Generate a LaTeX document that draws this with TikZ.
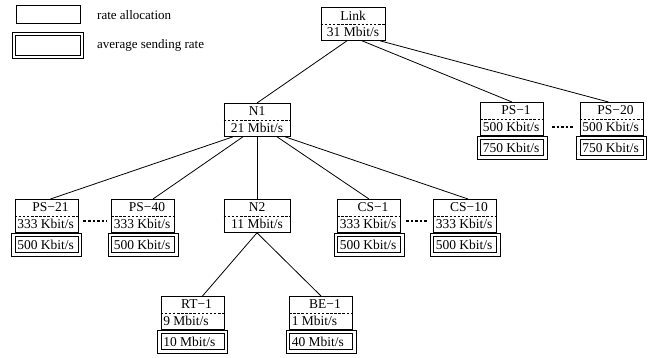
\documentclass[tikz,border=0pt]{standalone}
\usepackage{fontspec}
\setmainfont{Liberation Serif}
\usetikzlibrary{calc}
\tikzset{
  box/.style={draw, line width=0.8pt, minimum height=33pt, inner sep=0pt, anchor=north},
  divider/.style={line width=0.7pt, dash pattern=on 2.5pt off 1.6pt},
  lbl/.style={inner sep=0pt, font=\fontsize{13.5pt}{15pt}\selectfont},
  legtext/.style={inner sep=0pt, font=\fontsize{13pt}{15pt}\selectfont},
  outerbox/.style={draw, line width=0.8pt, minimum width=70pt, minimum height=23pt, inner sep=0pt, anchor=north},
  innerbox/.style={draw, line width=0.8pt, minimum width=63pt, minimum height=16pt, inner sep=0pt},
  conn/.style={line width=0.8pt},
  dotline/.style={line width=2.2pt, dash pattern=on 2.6pt off 2pt},
}
% name, x, top, width, top text, bottom text (centered)
\newcommand\myinnernode[6]{%
  \node[box, minimum width=#4pt] (#1) at (#2,#3) {};
  \draw[divider] (#1.west) -- (#1.east);
  \node[lbl] (#1t) at ($(#1.north)!0.5!(#1.center)$) {#5};
  \node[lbl] (#1b) at ($(#1.south)!0.5!(#1.center)$) {#6};
}
% name, x, top, top text, bottom text, sending rate
\newcommand\myleafnode[6]{%
  \node[box, minimum width=63pt] (#1) at (#2,#3) {};
  \draw[divider] (#1.west) -- (#1.east);
  \node[lbl] (#1t) at ($(#1.north)!0.5!(#1.center)+(4,0)$) {#4};
  \node[lbl, anchor=west] (#1b) at ($(#1.west)!0.5!(#1.south west)+(2.5,0)$) {#5};
  \node[outerbox] (#1o) at (#1.south) {};
  \node[innerbox] (#1i) at (#1o.center) {};
  \node[lbl, anchor=west] (#1r) at ($(#1i.west)+(2.5,0)$) {#6};
}
\begin{document}
\begin{tikzpicture}[x=1pt,y=-1pt]
\useasboundingbox (0,0) rectangle (655,358);

% legend
\node[draw, line width=0.8pt, minimum width=64pt, minimum height=18pt, inner sep=0pt] (lg1) at (48,14) {};
\node[legtext, anchor=west] (lg1t) at (97,15) {rate allocation};
\node[draw, line width=0.8pt, minimum width=71pt, minimum height=26pt, inner sep=0pt] (lg2o) at (47.5,45) {};
\node[draw, line width=0.8pt, minimum width=65pt, minimum height=20pt, inner sep=0pt] (lg2i) at (lg2o.center) {};
\node[legtext, anchor=west] (lg2t) at (97,45) {average sending rate};

% tree
\myinnernode{link}{353}{7}{64}{Link}{31 Mbit/s}
\myinnernode{n1}{257}{103}{66}{N1}{21 Mbit/s}
\myinnernode{n2}{257}{199}{66}{N2}{11 Mbit/s}

\myleafnode{psa}{512}{102}{PS−1}{500 Kbit/s}{750 Kbit/s}
\myleafnode{psb}{611.5}{102}{PS−20}{500 Kbit/s}{750 Kbit/s}
\myleafnode{psc}{46.5}{199}{PS−21}{333 Kbit/s}{500 Kbit/s}
\myleafnode{psd}{143}{199}{PS−40}{333 Kbit/s}{500 Kbit/s}
\myleafnode{csa}{369}{199}{CS−1}{333 Kbit/s}{500 Kbit/s}
\myleafnode{csb}{465}{199}{CS−10}{333 Kbit/s}{500 Kbit/s}
\myleafnode{rt}{192.5}{296}{RT−1}{9 Mbit/s}{10 Mbit/s}
\myleafnode{be}{321}{296}{BE−1}{1 Mbit/s}{40 Mbit/s}

% connectors
\draw[conn] ([xshift=-6pt]link.south) -- (n1.north);
\draw[conn] ([xshift=9pt]link.south) -- (psa.north);
\draw[conn] ([xshift=27pt]link.south) -- ([xshift=-3pt]psb.north);
\draw[conn] ([xshift=-24pt]n1.south) -- ([xshift=4pt]psc.north);
\draw[conn] ([xshift=-14pt]n1.south) -- ([xshift=10pt]psd.north);
\draw[conn] (n1.south) -- (n2.north);
\draw[conn] ([xshift=20pt]n1.south) -- (csa.north);
\draw[conn] ([xshift=28pt]n1.south) -- ([xshift=3pt]csb.north);
\draw[conn] (n2.south) -- ([xshift=10pt]rt.north);
\draw[conn] (n2.south) -- (be.north);

% dots
\draw[dotline, shorten <=8pt, shorten >=6pt] ($(psa.east)!0.5!(psa.south east)$) -- ($(psb.west)!0.5!(psb.south west)$);
\draw[dotline, shorten <=5pt, shorten >=4.5pt] ($(psc.east)!0.3!(psc.south east)$) -- ($(psd.west)!0.3!(psd.south west)$);
\draw[dotline, shorten <=5pt, shorten >=4.5pt] ($(csa.east)!0.3!(csa.south east)$) -- ($(csb.west)!0.3!(csb.south west)$);
\end{tikzpicture}
\end{document}
